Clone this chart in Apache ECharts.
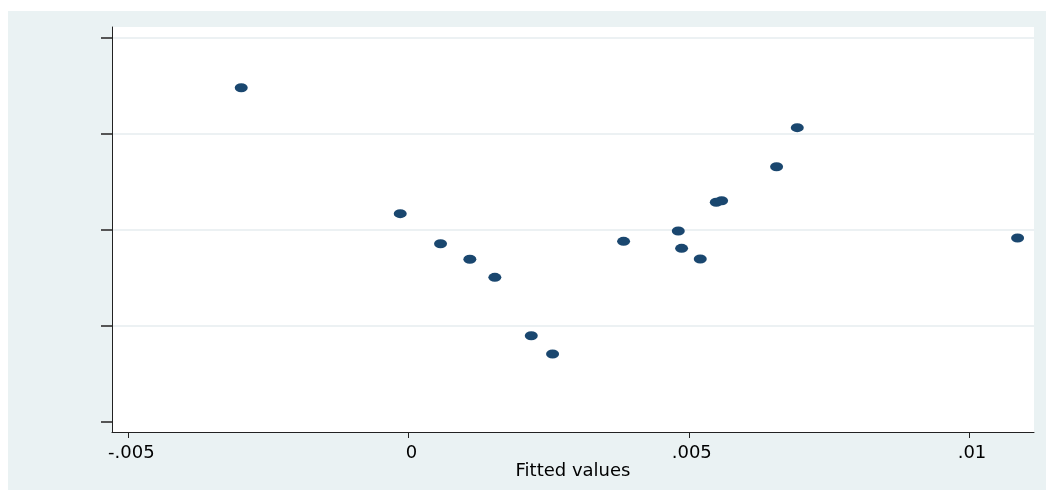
<!DOCTYPE html>
<html>
<head>
<meta charset="utf-8">
<script src="https://cdn.jsdelivr.net/npm/echarts@6/dist/echarts.min.js"></script>
<style>
  html, body { margin: 0; padding: 0; background: #fff; }
  #chart { position: absolute; left: 8px; top: 11px; width: 1038px; height: 479px; }
</style>
</head>
<body>
<div id="chart"></div>
<script>
// fitted values (x) and residual-like values (y)
const fitted = [-0.002985, -0.000148, 0.000571, 0.001094, 0.00154, 0.00219, 0.00257, 0.003837,
  0.004813, 0.004872, 0.005205, 0.005491, 0.005586, 0.006567, 0.006936, 0.010867]
const yValues = [0.01482, 0.0017, -0.00143, -0.00305, -0.00493, -0.01101, -0.01292, -0.00118,
  -0.0001, -0.00191, -0.00302, 0.00289, 0.00305, 0.00659, 0.01066, -0.00083]
const xTicks = [-0.005, 0, 0.005, 0.01]
const xTickLabels = ['-.005', '0', '.005', '.01']
const yTicks = [-0.02, -0.01, 0, 0.01, 0.02]

const points = fitted.map((x, i) => [x, yValues[i]])
const axisColor = '#222'
const gridColor = '#e6edef'
const font = 'DejaVu Sans, Liberation Sans, sans-serif'

const chart = echarts.init(document.getElementById('chart'))
chart.setOption({
  backgroundColor: '#eaf2f3',
  animation: false,
  grid: [
    // white plot region with the axis lines
    { left: 104, right: 12, top: 16, bottom: 58, show: true, backgroundColor: '#fff', borderWidth: 0 },
    // tick range, holds the data
    { left: 120.3, right: 77, top: 27, bottom: 68 },
    // full-width grid lines
    { left: 104, right: 12, top: 27, bottom: 68 }
  ],
  xAxis: [
    {
      gridIndex: 0, type: 'value', min: 0, max: 1,
      axisLine: { show: true, onZero: false, lineStyle: { color: axisColor, width: 1 } },
      axisTick: { show: false }, axisLabel: { show: false }, splitLine: { show: false },
      name: 'Fitted values', nameLocation: 'middle', nameGap: 30,
      nameTextStyle: { fontFamily: font, fontSize: 18, color: '#000' }
    },
    {
      gridIndex: 1, type: 'value',
      min: xTicks[0], max: xTicks[xTicks.length - 1], interval: 0.005,
      offset: 10,
      axisLine: { show: false, onZero: false },
      axisTick: { show: true, length: 6, lineStyle: { color: axisColor, width: 1 } },
      axisLabel: {
        margin: 12, fontFamily: font, fontSize: 18, color: '#000', padding: [0, 0, 0, 6],
        formatter: v => {
          const i = xTicks.findIndex(t => Math.abs(t - v) < 1e-9)
          return i >= 0 ? xTickLabels[i] : ''
        }
      },
      splitLine: { show: false }
    },
    { gridIndex: 2, type: 'value', min: 0, max: 1, show: false }
  ],
  yAxis: [
    {
      gridIndex: 0, type: 'value', min: 0, max: 1,
      axisLine: { show: true, onZero: false, lineStyle: { color: axisColor, width: 1 } },
      axisTick: { show: false }, axisLabel: { show: false }, splitLine: { show: false }
    },
    {
      gridIndex: 1, type: 'value',
      min: yTicks[0], max: yTicks[yTicks.length - 1], interval: 0.01,
      offset: 16.3,
      axisLine: { show: false, onZero: false },
      axisTick: { show: true, length: 11, lineStyle: { color: '#555', width: 2 } },
      axisLabel: { show: false },
      splitLine: { show: false }
    },
    {
      gridIndex: 2, type: 'value',
      min: yTicks[0], max: yTicks[yTicks.length - 1], interval: 0.01,
      axisLine: { show: false, onZero: false }, axisTick: { show: false }, axisLabel: { show: false },
      splitLine: { show: true, showMinLine: false, lineStyle: { color: gridColor, width: 1.5 } }
    }
  ],
  series: [
    {
      type: 'scatter',
      xAxisIndex: 1,
      yAxisIndex: 1,
      clip: false,
      symbol: 'circle',
      symbolSize: [13, 9],
      itemStyle: { color: '#1a476f', opacity: 1 },
      data: points
    }
  ]
})
</script>
</body>
</html>
